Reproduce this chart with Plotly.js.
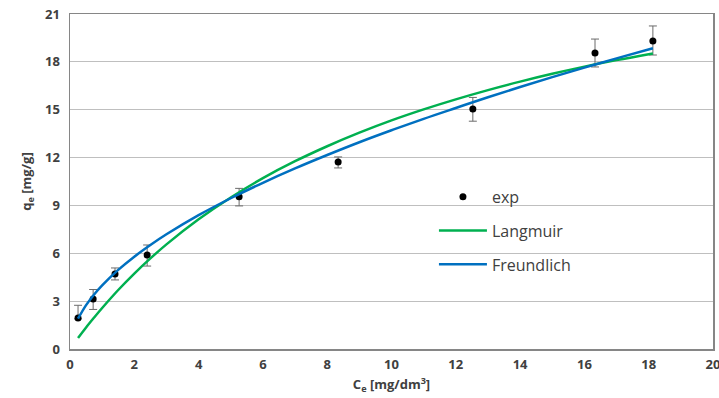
<!DOCTYPE html>
<html>
<head>
<meta charset="utf-8">
<script src="https://cdn.plot.ly/plotly-3.0.1.min.js"></script>
<style>html,body{margin:0;padding:0;background:#fff;}#chart{width:719px;height:398px;}</style>
</head>
<body>
<div id="chart"></div>
<script>
// Experimental points
const expC = [0.25, 0.72, 1.40, 2.40, 5.26, 8.34, 12.53, 16.33, 18.13];
const expQ = [1.94, 3.13, 4.70, 5.89, 9.55, 11.72, 15.05, 18.55, 19.31];
const errPlus = [0.80, 0.60, 0.38, 0.63, 0.52, 0.32, 0.72, 0.88, 0.94];
const errMinus = [0.05, 0.65, 0.37, 0.69, 0.58, 0.37, 0.77, 0.87, 0.88];

// Fitted curves
const curveC = [0.25, 0.5, 0.75, 1, 1.5, 2, 2.5, 3, 4, 5, 6, 7, 8, 9, 10, 11, 12, 13, 14, 15, 16, 17, 18.13];
const langQ = [0.69, 1.35, 1.97, 2.57, 3.70, 4.73, 5.68, 6.56, 8.13, 9.50, 10.71, 11.77, 12.71, 13.56, 14.33, 15.02, 15.65, 16.23, 16.76, 17.25, 17.70, 18.11, 18.53];
const freuQ = [1.90, 2.75, 3.42, 3.99, 4.96, 5.79, 6.52, 7.19, 8.39, 9.45, 10.42, 11.32, 12.16, 12.96, 13.71, 14.43, 15.11, 15.78, 16.42, 17.04, 17.64, 18.22, 18.85];

const xTicks = [0, 2, 4, 6, 8, 10, 12, 14, 16, 18, 20];
const yTicks = [0, 3, 6, 9, 12, 15, 18, 21];

const traces = [
  {
    x: expC, y: expQ, type: 'scatter', mode: 'markers', name: 'exp',
    legendgroup: 'a',
    marker: {color: '#000000', size: 7},
    error_y: {type: 'data', symmetric: false, array: errPlus, arrayminus: errMinus,
              color: '#6b6b6b', thickness: 1, width: 4}
  },
  {
    x: curveC, y: langQ, type: 'scatter', mode: 'lines', name: 'Langmuir',
    legendgroup: 'b',
    line: {color: '#00b050', width: 2.5, shape: 'spline'}
  },
  {
    x: curveC, y: freuQ, type: 'scatter', mode: 'lines', name: 'Freundlich',
    legendgroup: 'c',
    line: {color: '#0070c0', width: 2.5, shape: 'spline'}
  }
];

const fam = 'Open Sans, Liberation Sans, sans-serif';
const tickFont = {family: fam, size: 13, color: '#404040', weight: 'bold'};

const layout = {
  width: 719, height: 398,
  margin: {l: 70, r: 6, t: 14, b: 49},
  paper_bgcolor: '#ffffff', plot_bgcolor: '#ffffff',
  showlegend: true,
  legend: {
    x: 0.566, y: 0.505, xanchor: 'left', yanchor: 'top',
    bgcolor: 'rgba(255,255,255,0)', borderwidth: 0,
    font: {family: fam, size: 16, color: '#404040'},
    itemwidth: 48,
    traceorder: 'grouped', tracegroupgap: 10
  },
  shapes: [{
    type: 'rect', xref: 'paper', yref: 'paper', layer: 'between',
    x0: 0.555, x1: 0.915, y0: 0.22, y1: 0.53,
    fillcolor: '#ffffff', line: {width: 0}
  }],
  xaxis: {
    range: [0, 20], tickvals: xTicks, ticktext: xTicks.map(String),
    showgrid: false, zeroline: false,
    showline: true, linecolor: '#868686', linewidth: 1.5, mirror: true,
    ticks: '', tickfont: tickFont, ticklabeloverflow: 'allow', ticklabelstandoff: 3,
    title: {text: 'C<sub>e</sub> [mg/dm<sup>3</sup>]', font: {family: fam, size: 13, color: '#404040', weight: 'bold'}, standoff: 8}
  },
  yaxis: {
    range: [0, 21], tickvals: yTicks, ticktext: yTicks.map(String),
    showgrid: true, gridcolor: '#bfbfbf', gridwidth: 1, zeroline: false,
    showline: true, linecolor: '#868686', linewidth: 1.5, mirror: true,
    ticks: '', tickfont: tickFont, ticklabelstandoff: 6,
    title: {text: 'q<sub>e</sub> [mg/g]', font: {family: fam, size: 13, color: '#404040', weight: 'bold'}, standoff: 10}
  }
};

Plotly.newPlot('chart', traces, layout, {displayModeBar: false, staticPlot: true});
</script>
</body>
</html>
